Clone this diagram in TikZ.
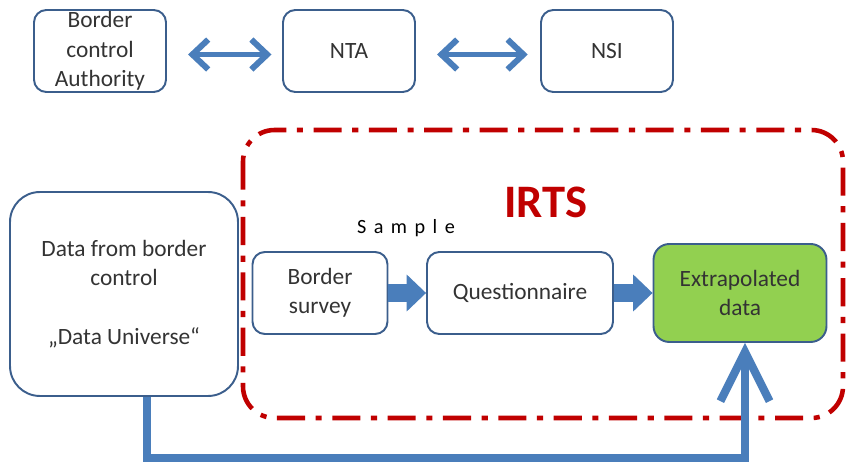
\documentclass[tikz,border=0pt]{standalone}
\usepackage{fontspec}
\setmainfont{Carlito}
\newfontfamily\spacedfont[LetterSpace=37]{Carlito}
\usepackage{xcolor}
\usepackage{tikz}
\usetikzlibrary{arrows.meta,calc}
\definecolor{boxline}{HTML}{3B5E8C}
\definecolor{arrowblue}{HTML}{4A7EBB}
\definecolor{irtsred}{HTML}{C00000}
\definecolor{greenfill}{HTML}{92D050}

\begin{document}
\begin{tikzpicture}[
  x=0.02cm, y=-0.02cm,
  box/.style={draw=boxline, line width=1.1pt, rounded corners=7pt, align=center,
    text=black!80, font=\fontsize{13.3}{16.8}\selectfont, inner sep=0pt,
    minimum width=2.64cm, minimum height=1.64cm},
  dblarrow/.style={{Straight Barb[length=9pt,width=17pt]}-{Straight Barb[length=9pt,width=17pt]},
    line width=3.4pt, draw=arrowblue},
  blockarrow/.style={-{Triangle[length=11pt,width=21pt,line width=0pt]}, line width=10pt, draw=arrowblue},
  bigarrow/.style={-{Straight Barb[length=28pt,width=28pt]}, line width=4.6pt, draw=arrowblue},
  irtsframe/.style={draw=irtsred, line width=2.6pt, rounded corners=18pt,
    dash pattern=on 16pt off 6pt on 3.5pt off 6pt},
]
\useasboundingbox (0,0) rectangle (846,462);

\node[box] (bca) at (100,51) {Border\\control\\Authority};
\node[box] (nta) at (349,51) {NTA};
\node[box] (nsi) at (607,51) {NSI};

\draw[dblarrow, shorten <=12pt, shorten >=6pt] ([yshift=-2pt]bca.east) -- ([yshift=-2pt]nta.west);
\draw[dblarrow, shorten <=12pt, shorten >=7pt] ([yshift=-2pt]nta.east) -- ([yshift=-2pt]nsi.west);

\draw[irtsframe] (243,130) rectangle (843,418);

\node[box, rounded corners=17pt, minimum width=4.56cm, minimum height=4.08cm] (data) at (124,294)
  {Data from border\\control\\[16.8pt]„Data Universe“};

\node[font=\bfseries\fontsize{26.5}{30}\selectfont, text=irtsred] (irts) at (546,202) {IRTS};
\node[font=\spacedfont\fontsize{11.5}{14}\selectfont, text=black] (sample) at (406,228) {Sample};

\node[box, minimum width=2.7cm] (survey) at (320,293) {Border\\survey};
\node[box, minimum width=3.72cm] (quest) at (520,293) {Questionnaire};
\node[box, fill=greenfill, rounded corners=9pt, minimum width=3.46cm, minimum height=1.96cm] (extra) at (740,293)
  {Extrapolated\\data};

\draw[blockarrow] (survey) -- (quest);
\draw[blockarrow] (quest) -- (extra);

\draw[bigarrow] ($(data.south)+(23,0)$) -- ++(0,61) -| ($(extra.south)+(5,0)$);
\end{tikzpicture}
\end{document}
